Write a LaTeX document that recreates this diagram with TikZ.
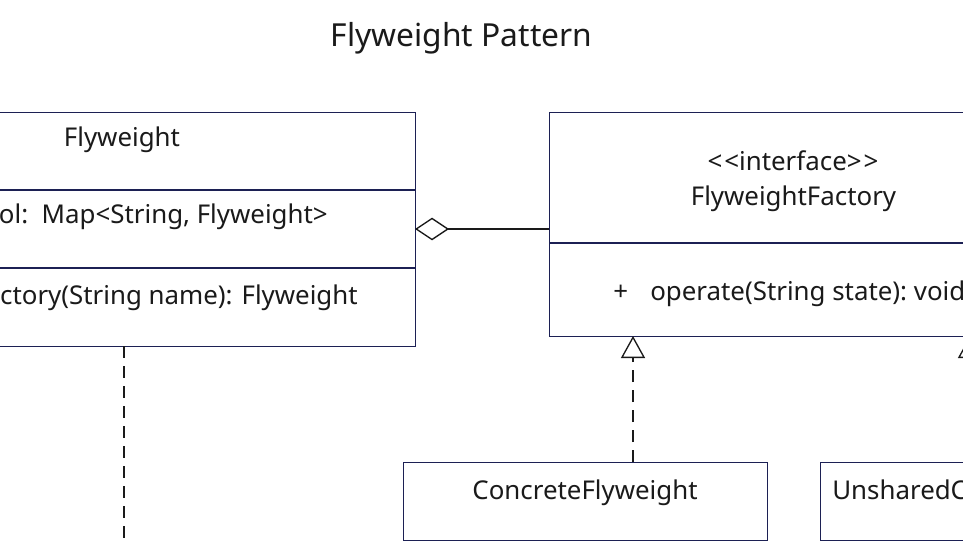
\documentclass[tikz,border=0pt]{standalone}
\usepackage{fontspec}
\setmainfont{Noto Sans}
\usetikzlibrary{arrows.meta}
\definecolor{boxc}{RGB}{28,32,84}
\definecolor{txt}{RGB}{26,26,26}
\begin{document}
\begin{tikzpicture}[x=0.75pt,y=-0.75pt,
 umlbox/.style={draw=boxc, line width=1.1pt, rectangle, inner sep=0pt, anchor=north west},
 divider/.style={draw=boxc, line width=1.1pt},
 lbl/.style={text=txt, inner sep=0pt, font=\fontsize{19.4pt}{23pt}\selectfont},
 ttl/.style={text=txt, inner sep=0pt, font=\fontsize{23.8pt}{28pt}\selectfont},
 conn/.style={draw=txt, line width=1pt},
 dashconn/.style={conn, dash pattern=on 9pt off 6pt},
 realize/.style={dashconn, -{Triangle[open,length=16.5pt,width=18pt]}},
 aggreg/.style={conn, {Diamond[open,length=25.5pt,width=17pt]}-},
]
\useasboundingbox (0,0) rectangle (963,542);
\fill[white] (0,0) rectangle (963,542);
\clip (0,0) rectangle (963,542);

% boxes
\node[umlbox, minimum width=439.5pt, minimum height=175.5pt] (flyw) at (-171,112) {};
\draw[divider] (-171,190) -- (415,190);
\draw[divider] (-171,268) -- (415,268);
\node[umlbox, minimum width=366pt, minimum height=168pt] (fac) at (549,112) {};
\draw[divider] (549,243) -- (1037,243);
\node[umlbox, minimum width=273pt, minimum height=58.5pt] (conc) at (403,462) {};
\node[umlbox, minimum width=273.75pt, minimum height=58.5pt] (unsh) at (820,462) {};

% texts
\node[ttl, anchor=base] (title) at (461.5,46.7) {Flyweight Pattern};
\node[lbl, anchor=base] (fname) at (122,146) {Flyweight};
\node[lbl, anchor=base east] (fattr) at (328,223) {pool:\ \ Map<String, Flyweight>};
\node[lbl, anchor=base east] (fop) at (358,304) {getFactory(String name): Flyweight};
\node[lbl, anchor=base] (ster) at (793,170) {{<}\kern1.5pt{<}interface{>}\kern1.5pt{>}};
\node[lbl, anchor=base] (facname) at (793.5,205) {FlyweightFactory};
\node[lbl, anchor=base west] (plus) at (613,300) {+};
\node[lbl, anchor=base west] (oper) at (650,300) {operate(String state):\ void};
\node[lbl, anchor=base] (cname) at (585,499) {ConcreteFlyweight};
\node[lbl, anchor=base west] (uname) at (832,499) {UnsharedConcreteFlyweight};

% connector end points
\coordinate (aggL) at (415,229);
\coordinate (aggR) at (549,229);
\coordinate (fdash) at (124,346);
\coordinate (fend) at (124,560);
\coordinate (cTop) at (633,462);
\coordinate (cTip) at (633,336);
\coordinate (uTop) at (970,462);
\coordinate (uTip) at (970,336);

% connectors
\draw[aggreg] (aggL) -- (aggR);
\draw[dashconn] (fdash) -- (fend);
\draw[realize] (cTop) -- (cTip);
\draw[realize] (uTop) -- (uTip);
\end{tikzpicture}
\end{document}
